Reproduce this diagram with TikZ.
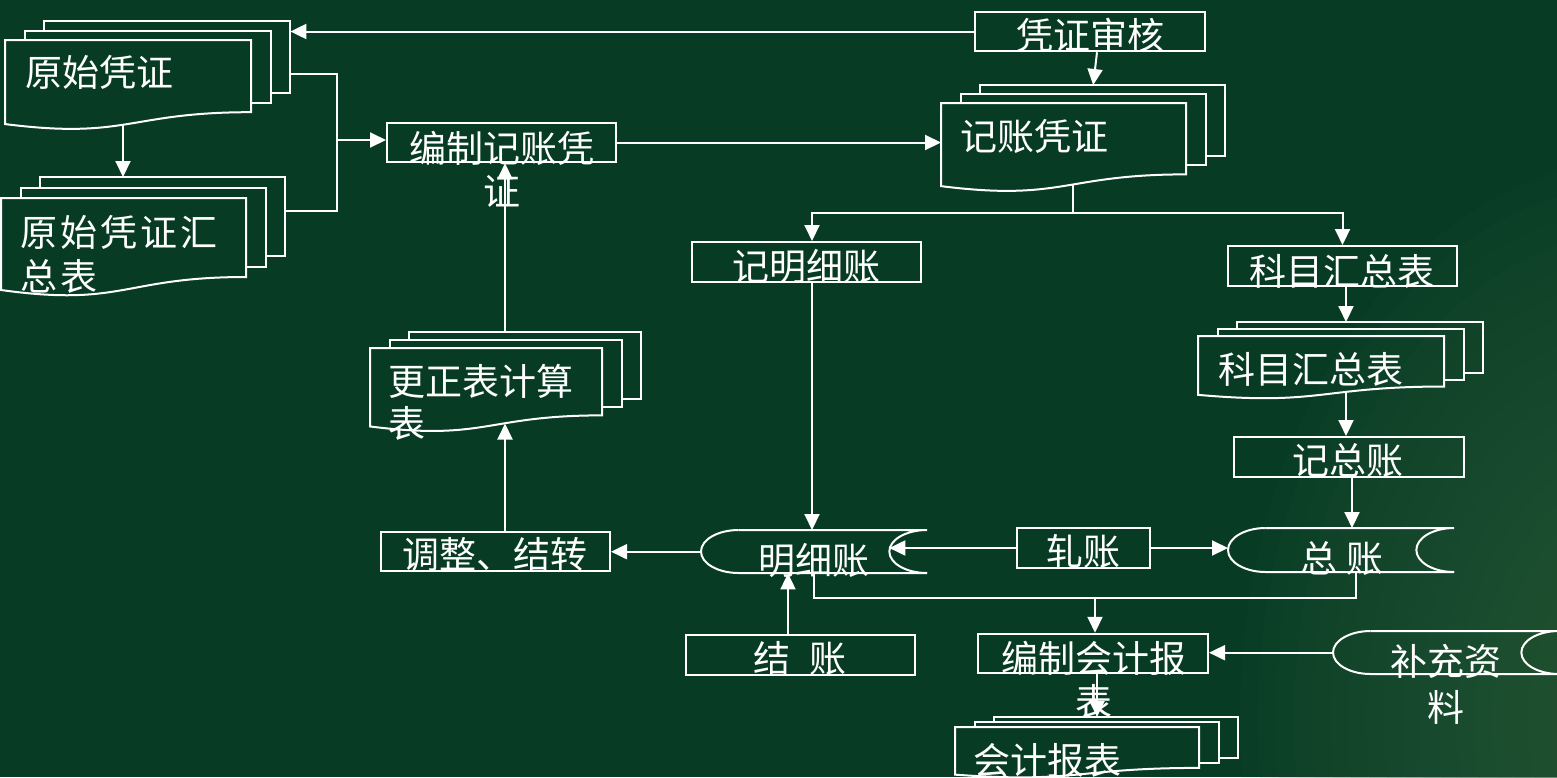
\documentclass[tikz,border=0pt]{standalone}
\usepackage{fontspec}
\newfontfamily\cjk{Noto Sans CJK SC}
\usetikzlibrary{arrows.meta,calc}
\definecolor{bg}{RGB}{7,59,36}
\definecolor{hl}{RGB}{44,92,60}
\tikzset{
  ln/.style={draw=white, line width=2pt},
  arr/.style={ln, -{Triangle[length=16pt,width=15pt]}},
  box/.style={ln, inner sep=0pt, minimum height=39.5pt},
  txt/.style={text=white, inner sep=0pt, font=\cjk\fontsize{37}{43}\selectfont},
}
% multi-document stack: name, x, y, w, H, dy
\newcommand{\docstack}[6]{%
  \pgfmathsetmacro\dsR{0.802*#5}%
  \pgfmathsetmacro\dsL{0.934*#5}%
  \pgfmathsetmacro\dsC{1.1075*#5}%
  \pgfmathsetmacro\dsX{19.5}%
  \draw[ln] ({#2+2*\dsX},{#3-#6}) -- ({#2+2*\dsX},{#3-2*#6}) -- ({#2+2*\dsX+#4},{#3-2*#6}) -- ({#2+2*\dsX+#4},{#3-2*#6+\dsR}) -- ({#2+\dsX+#4},{#3-2*#6+\dsR});
  \draw[ln] ({#2+\dsX},{#3}) -- ({#2+\dsX},{#3-#6}) -- ({#2+\dsX+#4},{#3-#6}) -- ({#2+\dsX+#4},{#3-#6+\dsR}) -- ({#2+#4},{#3-#6+\dsR});
  \draw[ln] (#2,#3) -- ({#2+#4},#3) -- ({#2+#4},{#3+\dsR}) .. controls ({#2+#4/2},{#3+\dsR}) and ({#2+#4/2},{#3+\dsC}) .. (#2,{#3+\dsL}) -- cycle;
  \node[inner sep=0pt, minimum width=#4pt, minimum height=\dsR pt, anchor=north west] (#1) at (#2,#3) {};
  \node[inner sep=0pt, minimum width=#4pt, minimum height=\dsR pt, anchor=north west] (#1-b) at ({#2+2*\dsX},{#3-2*#6}) {};
}
% stored data shape: name, x, y, w, h
\newcommand{\storedshape}[5]{%
  \pgfmathsetmacro\sdr{#4/6}%
  \pgfmathsetmacro\sdk{0.5523*#4/6}%
  \pgfmathsetmacro\sdh{#5/2}%
  \pgfmathsetmacro\sdkh{0.5523*#5/2}%
  \node[inner sep=0pt, minimum width=#4pt, minimum height=#5pt, anchor=north west] (#1) at (#2,#3) {};
  \draw[ln] ({#2+\sdr},#3) .. controls ({#2+\sdr-\sdk},#3) and (#2,{#3+\sdh-\sdkh}) .. (#2,{#3+\sdh})
     .. controls (#2,{#3+\sdh+\sdkh}) and ({#2+\sdr-\sdk},{#3+#5}) .. ({#2+\sdr},{#3+#5}) -- ({#2+#4},{#3+#5});
  \draw[ln] ({#2+\sdr},#3) -- ({#2+#4},#3) .. controls ({#2+#4-\sdk},#3) and ({#2+#4-\sdr},{#3+\sdh-\sdkh}) .. ({#2+#4-\sdr},{#3+\sdh})
     .. controls ({#2+#4-\sdr},{#3+\sdh+\sdkh}) and ({#2+#4-\sdk},{#3+#5}) .. ({#2+#4},{#3+#5});
  \coordinate (#1-in) at ({#2+#4-\sdr},{#3+\sdh});
}
\begin{document}
\begin{tikzpicture}[x=1pt,y=-1pt]
\useasboundingbox (0,0) rectangle (1557,777);
\begin{scope}
  \clip (0,0) rectangle (1557,777);
  \fill[bg] (0,0) rectangle (1557,777);
  \foreach \i in {0,...,19} {
    \fill[hl, opacity=0.07] (1640,720) ellipse [x radius={400-18*\i}, y radius={560-24*\i}];
  }
\end{scope}

% documents
\docstack{ys}{5}{40}{246}{90}{9.5}
\docstack{hz}{1}{198}{245}{98.5}{10.5}
\docstack{gz}{370}{348}{232}{84}{8}
\docstack{jzp}{941}{103}{245}{89}{9}
\docstack{kmd}{1198}{336}{246}{63}{7}
\docstack{kjb}{955}{727}{244}{51}{5}

% stored data
\storedshape{mxz}{701}{530}{226}{43}
\storedshape{zzs}{1228}{528}{226}{44}
\storedshape{bcz}{1333}{631}{226}{43}

% process boxes
\node[box, minimum width=230pt] (vs) at (1090,31.5) {};
\node[box, minimum width=229pt] (bz) at (501.5,142.5) {};
\node[box, minimum width=229pt, minimum height=40pt] (jmx) at (806.5,262) {};
\node[box, minimum width=229pt, minimum height=40pt] (kmb) at (1342.5,266) {};
\node[box, minimum width=230pt, minimum height=40pt] (jzz) at (1349,457) {};
\node[box, minimum width=229pt] (tz) at (495.5,551.5) {};
\node[box, minimum width=229pt, minimum height=40pt] (jz) at (800.5,655) {};
\node[box, minimum width=133pt, minimum height=40pt] (zab) at (1083.5,548) {};
\node[box, minimum width=230pt] (bkb) at (1093,653.5) {};

% helper coordinates
\coordinate (ysout) at (290,74);
\coordinate (hzout) at (285,211);
\coordinate (trunk) at (337,140);
\coordinate (ysbot) at (123,125);
\coordinate (jzbot) at (1073,184.5);
\coordinate (gzbot) at (505,423.5);
\coordinate (kmbot) at (1346,392);
\coordinate (split) at (1073,213);
\coordinate (m2) at (1356,598);
\coordinate (m3) at (1095,598);

% connectors
\draw[arr] (vs.west) -- (vs.west -| ys-b.east);
\draw[ln] (ysout) -| (trunk) |- (hzout);
\draw[arr] (trunk) -- (trunk -| bz.west);
\draw[arr] (ysbot) -- (ysbot |- hz-b.north);
\draw[arr] (bz.east) -- (bz.east -| jzp.west);
\draw[arr] ([xshift=7pt]vs.south) -- ([xshift=-9.5pt]jzp-b.north);
\draw[ln] (jzbot) -- (split);
\draw[arr] (split) -| ([xshift=5.5pt]jmx.north);
\draw[arr] (split) -| (kmb.north);
\draw[arr] ([xshift=5.5pt]jmx.south) -- ([xshift=5.5pt]jmx.south |- mxz.north);
\draw[arr] ([xshift=3.5pt]kmb.south) -- ([xshift=3.5pt]kmb.south |- kmd-b.north);
\draw[arr] (kmbot) -- (kmbot |- jzz.north);
\draw[arr] ([xshift=3pt]jzz.south) -- ([xshift=3pt]jzz.south |- zzs.north);
\draw[arr] (zab.west) -- (zab.west -| mxz-in);
\draw[arr] (zab.east) -- (zab.east -| zzs.west);
\draw[arr] (mxz.west) -- (mxz.west -| tz.east);
\draw[arr] (tz.north -| gzbot) -- (gzbot);
\draw[arr] (gzbot |- gz-b.north) -- (gzbot |- bz.south);
\draw[arr] ([xshift=-12.5pt]jz.north) -- ([xshift=-12.5pt]jz.north |- mxz.south);
\draw[ln] (mxz.south) |- (m2) -- (m2 |- zzs.south);
\draw[arr] (m3) -- (m3 |- bkb.north);
\draw[arr] ([xshift=4pt]bkb.south) -- ([xshift=4pt]bkb.south |- kjb-b.north);
\draw[arr] (bcz.west) -- (bcz.west -| bkb.east);

% texts
\node[txt] (t-vs) at (1090,35) {凭证审核};
\node[txt, align=center] (t-bz) at (502,169) {编制记账凭\\证};
\node[txt] (t-jmx) at (806,266) {记明细账};
\node[txt] (t-kmb) at (1342,271) {科目汇总表};
\node[txt] (t-jzz) at (1348,461) {记总账};
\node[txt] (t-tz) at (495,554.5) {调整、结转};
\node[txt] (t-jz) at (800,659) {结\hspace{0.5em}账};
\node[txt] (t-zab) at (1083,552) {轧账};
\node[txt, align=center] (t-bkb) at (1094,680) {编制会计报\\表};
\node[txt] (t-mxz) at (814,560) {明细账};
\node[txt] (t-zzs) at (1342,559) {总 账};
\node[txt, align=center, font=\cjk\fontsize{37}{46}\selectfont] (t-bcz) at (1446,684.5) {补充资\\料};
\node[txt, anchor=west] (t-ys) at (25,72.5) {原始凭证};
\node[txt, anchor=west, align=left, font=\cjk\fontsize{37}{44}\selectfont\addfontfeatures{LetterSpace=8}] (t-hz) at (20,254.5) {原始凭证汇\\总表};
\node[txt, anchor=west, align=left, font=\cjk\fontsize{37}{42}\selectfont] (t-gz) at (388,402.5) {更正表计算\\表};
\node[txt, anchor=west] (t-jzp) at (960,136.5) {记账凭证};
\node[txt, anchor=west] (t-kmd) at (1218,369) {科目汇总表};
\node[txt, anchor=west] (t-kjb) at (973,760) {会计报表};
\end{tikzpicture}
\end{document}
